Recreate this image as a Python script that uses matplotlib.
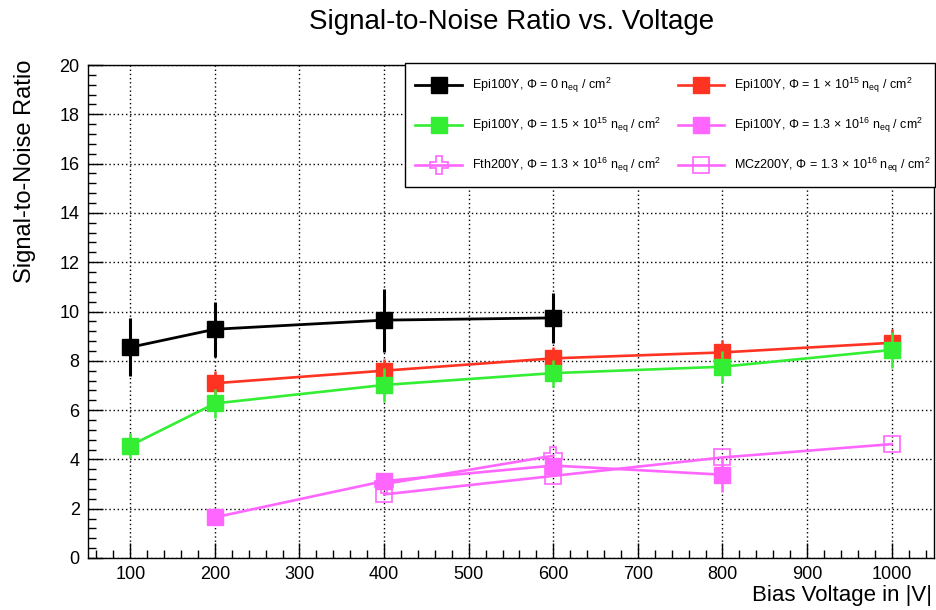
import matplotlib
matplotlib.use("Agg")
import matplotlib.pyplot as plt
from matplotlib.lines import Line2D
from matplotlib.patches import Rectangle
from matplotlib.ticker import MultipleLocator

plt.rcParams['font.family'] = ['Liberation Sans', 'DejaVu Sans']
plt.rcParams['mathtext.fontset'] = 'custom'
plt.rcParams['mathtext.rm'] = 'Liberation Sans'
plt.rcParams['mathtext.it'] = 'Liberation Sans:italic'
plt.rcParams['mathtext.bf'] = 'Liberation Sans:bold'

# ---- data -------------------------------------------------------------
epi0_v = [100, 200, 400, 600]
epi0_snr = [8.55, 9.28, 9.65, 9.74]
epi0_err = [1.18, 1.12, 1.28, 1.02]

epi1e15_v = [200, 400, 600, 800, 1000]
epi1e15_snr = [7.09, 7.60, 8.10, 8.34, 8.73]
epi1e15_err = [0.50, 0.47, 0.47, 0.50, 0.55]

epi15e15_v = [100, 200, 400, 600, 800, 1000]
epi15e15_snr = [4.56, 6.27, 7.02, 7.50, 7.76, 8.44]
epi15e15_err = [0.52, 0.60, 0.68, 0.55, 0.65, 0.74]

epi13e16_v = [200, 400, 600, 800]
epi13e16_snr = [1.65, 3.12, 3.75, 3.38]
epi13e16_err = [0.20, 0.30, 0.30, 0.69]

fth_v = [400, 600]
fth_snr = [3.00, 4.15]

mcz_v = [400, 600, 800, 1000]
mcz_snr = [2.58, 3.33, 4.08, 4.62]

X = r'$\,\times\,$'
NEQ = r' n$_{\mathrm{eq}}$ / cm$^{2}$'
labels = [
    'Epi100Y, Φ = 0' + NEQ,
    'Epi100Y, Φ = 1' + X + r'10$^{15}$' + NEQ,
    'Epi100Y, Φ = 1.5' + X + r'10$^{15}$' + NEQ,
    'Epi100Y, Φ = 1.3' + X + r'10$^{16}$' + NEQ,
    'Fth200Y, Φ = 1.3' + X + r'10$^{16}$' + NEQ,
    'MCz200Y, Φ = 1.3' + X + r'10$^{16}$' + NEQ,
]

BLACK = '#000000'
RED = '#ff3322'
GREEN = '#33ee33'
MAGENTA = '#ff66ff'

# ---- figure -----------------------------------------------------------
W, H = 937, 610
fig = plt.figure(figsize=(W / 100, H / 100), dpi=100)
ax = fig.add_axes([88 / W, (H - 558) / H, (934 - 88) / W, (558 - 65) / H])

ax.set_xlim(50, 1050)
ax.set_ylim(0, 20)

ax.xaxis.set_major_locator(MultipleLocator(100))
ax.xaxis.set_minor_locator(MultipleLocator(20))
ax.yaxis.set_major_locator(MultipleLocator(2))
ax.yaxis.set_minor_locator(MultipleLocator(0.4))
ax.tick_params(which='both', direction='in', top=False, right=False,
               labelsize=13, width=1, colors='black')
ax.tick_params(which='major', length=11, pad=6)
ax.tick_params(which='minor', length=6)
ax.set_xticks(range(100, 1001, 100))

for s in ax.spines.values():
    s.set_linewidth(1.0)
    s.set_color('black')

ax.grid(True, which='major', color='black', linestyle=(0, (1, 2)), linewidth=1.0)
ax.set_axisbelow(True)


def draw(v, y, err, color, marker, mfc, lw, elw, ms, mew, z):
    ax.errorbar(v, y, yerr=err, color=color, ecolor=color, lw=lw, elinewidth=elw,
                marker=marker, ms=ms, mfc=mfc, mec=color, mew=mew, zorder=z,
                capsize=0, linestyle='-')


styles = [
    dict(color=BLACK, marker='s', mfc=BLACK, ms=11.5, mew=1.0, lw=2.0),
    dict(color=RED, marker='s', mfc=RED, ms=11.5, mew=1.0, lw=1.9),
    dict(color=GREEN, marker='s', mfc=GREEN, ms=11.5, mew=1.0, lw=1.9),
    dict(color=MAGENTA, marker='s', mfc=MAGENTA, ms=11.5, mew=1.0, lw=1.9),
    dict(color=MAGENTA, marker='P', mfc='none', ms=12.5, mew=1.2, lw=1.9),
    dict(color=MAGENTA, marker='s', mfc='none', ms=12, mew=1.2, lw=1.9),
]

draw(epi0_v, epi0_snr, epi0_err, elw=2.2, z=3, **styles[0])
draw(epi1e15_v, epi1e15_snr, epi1e15_err, elw=1.8, z=4, **styles[1])
draw(epi15e15_v, epi15e15_snr, epi15e15_err, elw=1.8, z=5, **styles[2])
draw(mcz_v, mcz_snr, None, elw=1.8, z=6, **styles[5])
draw(fth_v, fth_snr, None, elw=1.8, z=7, **styles[4])
draw(epi13e16_v, epi13e16_snr, epi13e16_err, elw=1.8, z=8, **styles[3])

# ---- text -------------------------------------------------------------
fig.text(512 / W, 1 - 22 / H, 'Signal-to-Noise Ratio vs. Voltage',
         ha='center', va='center', fontsize=20)
fig.text(932 / W, 1 - 596 / H, 'Bias Voltage in |V|',
         ha='right', va='center', fontsize=16)
fig.text(25 / W, 1 - 60 / H, 'Signal-to-Noise Ratio',
         ha='center', va='top', rotation=90, fontsize=17)

# ---- legend box (two columns, three rows) ------------------------------
fig.add_artist(Rectangle((405 / W, 1 - 187 / H), (935 - 405) / W, (187 - 63) / H,
                         transform=fig.transFigure, facecolor='white',
                         edgecolor='black', linewidth=1.0, zorder=5))
col_handle = [(415.5, 462.0), (677.6, 724.0)]
col_text = [471.7, 734.5]
row_y = [85, 125, 165]
# entry i -> (column, row)
slots = [(0, 0), (1, 0), (0, 1), (1, 1), (0, 2), (1, 2)]
for (c, r), st, lab in zip(slots, styles, labels):
    x0, x1 = col_handle[c]
    yf = 1 - row_y[r] / H
    fig.add_artist(Line2D([x0 / W, x1 / W], [yf, yf], transform=fig.transFigure,
                          color=st['color'], lw=st['lw'], zorder=6))
    fig.add_artist(Line2D([(x0 + x1) / 2 / W], [yf], transform=fig.transFigure,
                          linestyle='none', marker=st['marker'], ms=st['ms'],
                          mfc=st['mfc'], mec=st['color'], mew=st['mew'], zorder=7))
    fig.text(col_text[c] / W, yf, lab, ha='left', va='center',
             fontsize=9.0, zorder=8)

fig.savefig('out.png', dpi=100)
